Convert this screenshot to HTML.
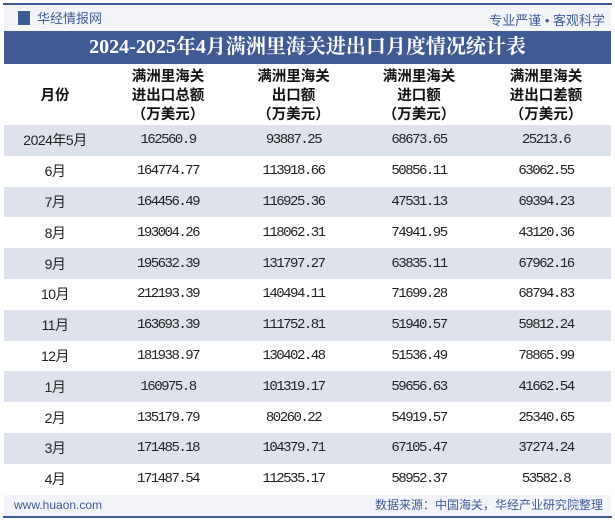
<!DOCTYPE html>
<html><head><meta charset="utf-8"><style>
body{margin:0;width:615px;height:520px;background:#fff;position:relative;overflow:hidden;font-family:"Liberation Sans","Noto Sans CJK SC",sans-serif}
.topline{position:absolute;left:3px;right:3px;top:3px;height:2px;background:#3f5a95}
.botline{position:absolute;left:3px;right:3px;top:516px;height:2px;background:#3f5a95}
.hdr{position:absolute;left:4px;right:4px;top:5px;height:26px;background:#f2f4f8}
.title{position:absolute;left:4px;right:4px;top:31px;height:33px;background:#405a94;color:#fff;font:bold 20px "Liberation Serif","Noto Serif CJK SC",serif;text-align:center;line-height:33px}
table{position:absolute;left:4px;top:64px;width:607px;border-collapse:collapse;table-layout:fixed}
th{height:61px;font:bold 14.5px "Noto Sans CJK SC",sans-serif;line-height:19px;color:#111;padding:0}
td{height:30.8px;padding:0;text-align:center;font:14px "Liberation Mono","Noto Sans CJK SC",monospace;letter-spacing:-1.5px;color:#222}
tr.g td{background:#dde2ec}
.foot{position:absolute;left:4px;right:4px;top:495px;height:21px;background:#f2f4f8;font-size:12px;color:#3f5a95;line-height:21px}
</style></head><body>
<div class="topline"></div>
<div class="hdr">
<span style="position:absolute;left:14px;top:6px;width:12px;height:14px;background:#3f5a95"></span>
<span style="position:absolute;left:33px;top:3px;font-size:13px;color:#3f5a95">华经情报网</span>
<span style="position:absolute;right:6px;top:5px;font-size:13px;color:#3f5a95">专业严谨 • 客观科学</span>
</div>
<div class="title">2024-2025年4月满洲里海关进出口月度情况统计表</div>
<table>
<colgroup><col style="width:102px"><col style="width:124px"><col style="width:127px"><col style="width:124px"><col style="width:130px"></colgroup>
<tr><th>月份</th><th>满洲里海关<br>进出口总额<br>（万美元）</th><th>满洲里海关<br>出口额<br>（万美元）</th><th>满洲里海关<br>进口额<br>（万美元）</th><th>满洲里海关<br>进出口差额<br>（万美元）</th></tr>
<tbody id="tb"></tbody>
</table>
<div class="foot"><span style="position:absolute;left:10px">www.huaon.com</span><span style="position:absolute;right:8px">数据来源：中国海关，华经产业研究院整理</span></div>
<div class="botline"></div>
<script>
const months=["2024年5月","6月","7月","8月","9月","10月","11月","12月","1月","2月","3月","4月"];
const totals=["162560.9","164774.77","164456.49","193004.26","195632.39","212193.39","163693.39","181938.97","160975.8","135179.79","171485.18","171487.54"];
const exportsV=["93887.25","113918.66","116925.36","118062.31","131797.27","140494.11","111752.81","130402.48","101319.17","80260.22","104379.71","112535.17"];
const importsV=["68673.65","50856.11","47531.13","74941.95","63835.11","71699.28","51940.57","51536.49","59656.63","54919.57","67105.47","58952.37"];
const balances=["25213.6","63062.55","69394.23","43120.36","67962.16","68794.83","59812.24","78865.99","41662.54","25340.65","37274.24","53582.8"];
const tb=document.getElementById('tb');
months.forEach((m,i)=>{
const tr=document.createElement('tr');


if(i%2===0)tr.className='g';
[m,totals[i],exportsV[i],importsV[i],balances[i]].forEach((v,j)=>{
const td=document.createElement('td');


td.textContent=v;
if(j===0){td.style.fontFamily='"Liberation Sans","Noto Sans CJK SC",sans-serif';td.style.letterSpacing='-0.5px';}
tr.appendChild(td);});
tb.appendChild(tr);});
</script>
</body></html>
